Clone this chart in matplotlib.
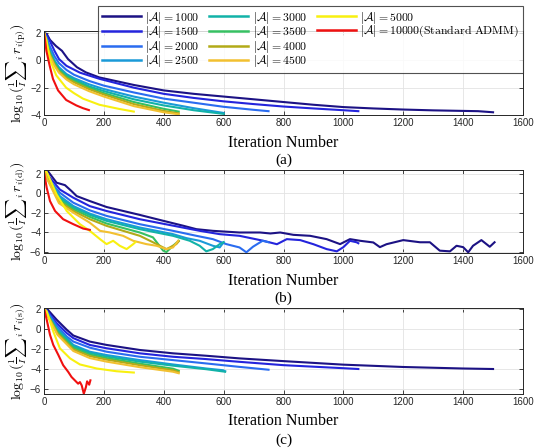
import matplotlib
matplotlib.use("Agg")
import matplotlib.pyplot as plt
from matplotlib.lines import Line2D

plt.rcParams['mathtext.fontset'] = 'cm'
plt.rcParams['font.family'] = ['Liberation Sans', 'DejaVu Sans']

sizes = [1000, 1500, 2000, 2500, 3000, 3500, 4000, 4500, 5000, 10000]
colors = ['#1c1284', '#2424dc', '#2a6cf0', '#1a9ad8', '#12b2a8', '#36c062',
          '#b2aa18', '#f2c030', '#f8f010', '#f01010']
labels = [r'$|\mathcal{A}| = %d$' % s for s in sizes[:-1]] + \
         [r'$|\mathcal{A}| = 10000(\mathrm{Standard\ ADMM})$']

# ---------------- panel (a): primal residual ----------------
it_a = [
    [0, 10, 20, 40, 60, 80, 110, 140, 185, 300, 400, 500, 600, 700, 800, 900, 1000, 1100, 1200, 1300, 1400, 1450, 1500],
    [0, 10, 20, 35, 50, 75, 120, 185, 300, 400, 500, 600, 700, 800, 900, 1000, 1050],
    [0, 10, 20, 35, 50, 75, 100, 150, 200, 300, 400, 500, 600, 700, 750],
    [0, 10, 20, 35, 50, 75, 100, 150, 200, 300, 400, 500, 600],
    [0, 10, 20, 35, 50, 75, 100, 150, 200, 300, 400, 500, 600],
    [0, 10, 20, 35, 50, 75, 100, 150, 200, 300, 400, 450],
    [0, 10, 20, 35, 50, 75, 100, 150, 200, 300, 400, 450],
    [0, 10, 20, 35, 50, 75, 100, 150, 200, 300, 400, 450],
    [0, 8, 19, 41, 74, 100, 130, 185, 250, 300],
    [0, 8, 19, 30, 47, 74, 108, 130, 150],
]
res_a = [
    [2.05, 1.9, 1.5, 1.05, 0.7, 0.1, -0.5, -0.88, -1.25, -1.8, -2.2, -2.45, -2.65, -2.85, -3.05, -3.25, -3.42, -3.52, -3.6, -3.66, -3.7, -3.72, -3.8],
    [2.05, 1.8, 1.4, 0.7, 0.1, -0.4, -0.9, -1.35, -2.0, -2.45, -2.75, -3.0, -3.2, -3.38, -3.52, -3.65, -3.72],
    [2.05, 1.6, 1.0, 0.3, -0.2, -0.7, -1.05, -1.5, -1.85, -2.35, -2.8, -3.1, -3.4, -3.62, -3.72],
    [2.05, 1.4, 0.7, 0.0, -0.5, -1.0, -1.3, -1.75, -2.1, -2.65, -3.1, -3.5, -3.85],
    [2.05, 1.3, 0.6, -0.1, -0.6, -1.1, -1.4, -1.9, -2.25, -2.85, -3.3, -3.65, -3.92],
    [2.05, 1.2, 0.5, -0.2, -0.7, -1.2, -1.5, -2.0, -2.4, -3.05, -3.55, -3.75],
    [2.05, 1.1, 0.4, -0.3, -0.8, -1.3, -1.6, -2.1, -2.5, -3.2, -3.7, -3.88],
    [2.05, 1.0, 0.3, -0.4, -0.9, -1.4, -1.75, -2.25, -2.65, -3.35, -3.8, -3.95],
    [2.05, 1.5, 0.1, -1.1, -2.0, -2.4, -2.8, -3.25, -3.55, -3.75],
    [2.05, 0.7, -0.4, -1.36, -2.2, -2.9, -3.3, -3.5, -3.64],
]

# ---------------- panel (b): dual residual ----------------
it_b = [
    [0, 10, 42, 70, 92, 109, 153, 209, 320, 398, 464, 509, 564, 653, 722, 756, 789, 833, 889, 944, 989, 1022, 1056, 1100, 1122, 1144, 1200, 1256, 1289, 1322, 1356, 1378, 1400, 1417, 1433, 1461, 1489, 1505],
    [0, 20, 53, 98, 153, 209, 320, 431, 520, 587, 653, 733, 778, 811, 856, 900, 944, 978, 1000, 1022, 1044, 1050],
    [0, 20, 53, 98, 153, 209, 320, 431, 509, 564, 609, 653, 676, 698, 730, 750],
    [0, 10, 53, 98, 153, 209, 320, 431, 476, 520, 564, 587, 600],
    [0, 10, 50, 98, 153, 209, 320, 431, 487, 520, 542, 564, 587, 600],
    [0, 10, 50, 98, 153, 209, 320, 364, 398, 409, 431, 450],
    [0, 10, 50, 98, 153, 209, 320, 364, 409, 442, 450],
    [0, 10, 50, 98, 153, 187, 220, 264, 298, 342, 376, 409, 431, 448],
    [0, 9, 42, 76, 120, 153, 187, 209, 231, 253, 276, 298, 305],
    [0, 9, 20, 37, 64, 98, 131, 153],
]
res_b = [
    [2.45, 2.4, 1.1, 0.85, 0.24, -0.27, -0.78, -1.39, -2.2, -2.8, -3.3, -3.66, -3.83, -4.0, -4.0, -4.1, -4.0, -4.24, -4.34, -4.68, -5.19, -4.68, -4.85, -5.02, -5.5, -5.2, -4.78, -5.0, -5.0, -5.86, -5.93, -5.36, -5.5, -6.03, -5.36, -4.78, -5.46, -5.0],
    [2.45, 1.6, 0.4, -0.44, -1.3, -1.8, -2.64, -3.3, -3.83, -4.17, -4.34, -4.85, -5.2, -4.68, -4.78, -5.2, -5.7, -5.93, -5.5, -4.85, -5.0, -5.1],
    [2.45, 1.25, 0.07, -0.95, -1.73, -2.3, -3.15, -3.83, -4.34, -4.68, -5.19, -5.53, -6.03, -5.46, -4.85, -5.0],
    [2.45, 1.9, -0.27, -1.29, -2.07, -2.64, -3.49, -4.17, -4.58, -4.85, -5.36, -5.53, -5.0],
    [2.45, 1.8, -0.4, -1.46, -2.2, -2.81, -3.66, -4.34, -4.85, -5.36, -5.93, -5.7, -5.19, -5.0],
    [2.45, 1.7, -0.6, -1.63, -2.4, -3.08, -4.0, -4.5, -5.86, -6.0, -5.36, -4.85],
    [2.45, 1.6, -0.8, -1.8, -2.64, -3.32, -4.34, -5.0, -5.7, -5.19, -4.9],
    [2.45, 1.5, -1.0, -1.97, -3.0, -3.83, -4.0, -4.34, -4.85, -5.19, -5.36, -5.7, -5.53, -4.85],
    [2.4, 2.2, -0.1, -1.8, -3.15, -3.83, -4.68, -5.19, -4.85, -5.36, -5.7, -5.19, -5.0],
    [2.2, 0.58, -0.78, -1.8, -2.64, -3.15, -3.6, -3.73],
]

# ---------------- panel (c): third residual ----------------
it_c = [
    [0, 9, 42, 76, 98, 153, 209, 320, 431, 542, 653, 800, 1000, 1200, 1400, 1500],
    [0, 10, 42, 76, 98, 153, 209, 320, 431, 542, 653, 800, 1000, 1050],
    [0, 10, 42, 76, 98, 153, 209, 320, 431, 542, 653, 750],
    [0, 10, 42, 98, 153, 209, 320, 431, 542, 598, 605],
    [0, 10, 42, 98, 153, 209, 320, 431, 542, 605],
    [0, 10, 45, 98, 153, 209, 320, 431, 450],
    [0, 10, 45, 98, 153, 209, 320, 431, 450],
    [0, 10, 45, 98, 153, 209, 320, 431, 450],
    [0, 9, 31, 53, 87, 120, 176, 242, 300],
    [0, 9, 20, 31, 48, 64, 81, 92, 103, 114, 120, 126, 133, 140, 144, 151, 155],
]
res_c = [
    [2.0, 2.0, 0.9, -0.1, -0.67, -1.27, -1.6, -2.1, -2.43, -2.67, -2.93, -3.2, -3.55, -3.78, -3.93, -3.98],
    [2.0, 1.8, 0.57, -0.43, -0.93, -1.6, -1.93, -2.43, -2.77, -3.0, -3.27, -3.6, -3.9, -3.98],
    [2.0, 1.7, 0.33, -0.77, -1.27, -1.87, -2.27, -2.77, -3.1, -3.43, -3.77, -4.05],
    [2.0, 1.6, 0.07, -1.6, -2.27, -2.6, -3.1, -3.53, -3.93, -4.1, -4.2],
    [2.0, 1.55, -0.05, -1.75, -2.4, -2.75, -3.25, -3.65, -4.0, -4.25],
    [2.0, 1.5, -0.3, -1.9, -2.55, -2.9, -3.45, -3.95, -4.15],
    [2.0, 1.45, -0.45, -2.05, -2.7, -3.05, -3.6, -4.1, -4.3],
    [2.0, 1.4, -0.6, -2.2, -2.9, -3.25, -3.8, -4.25, -4.4],
    [2.0, 1.73, -0.27, -1.93, -2.93, -3.53, -3.93, -4.2, -4.33],
    [2.0, 0.9, -0.6, -1.6, -2.6, -3.6, -4.27, -4.77, -5.1, -5.43, -5.27, -5.6, -6.43, -5.77, -5.2, -5.53, -5.1],
]

ylabels = [r'$\log_{10}(\frac{1}{I}{\sum}_i\, r_{i(\mathrm{p})})$',
           r'$\log_{10}(\frac{1}{I}{\sum}_i\, r_{i(\mathrm{d})})$',
           r'$\log_{10}(\frac{1}{I}{\sum}_i\, r_{i(\mathrm{s})})$']
panel_tags = ['(a)', '(b)', '(c)']
ylims = [(-4, 2.15), (-6.1, 2.4), (-6.45, 2.05)]
yticks = [[-4, -2, 0, 2], [-6, -4, -2, 0, 2], [-6, -4, -2, 0, 2]]
xticks = list(range(0, 1601, 200))

W, H = 550, 448
fig = plt.figure(figsize=(W / 100, H / 100), dpi=100)

# pixel boxes (left, top, right, bottom)
boxes = [(44, 31, 523, 115), (44, 170, 523, 253), (44, 308, 523, 394)]
xlab_y = [143, 281, 421]
tag_y = [160, 298, 440]

datasets = [(it_a, res_a), (it_b, res_b), (it_c, res_c)]
axes = []
for k in range(3):
    l, t, r, b = boxes[k]
    ax = fig.add_axes([l / W, 1 - b / H, (r - l) / W, (b - t) / H])
    its, res = datasets[k]
    for i in range(len(sizes)):
        ax.plot(its[i], res[i], color=colors[i], lw=1.5, label=labels[i],
                solid_joinstyle='round')
    ax.set_xlim(0, 1600)
    ax.set_ylim(*ylims[k])
    ax.set_xticks(xticks)
    ax.set_yticks(yticks[k])
    ax.grid(True, color='#e3e3e3', lw=0.6)
    ax.set_axisbelow(True)
    ax.tick_params(direction='in', top=True, right=True, length=3, width=0.6,
                   labelsize=7, colors='#262626', pad=2)
    for s in ax.spines.values():
        s.set_color('#262626')
        s.set_linewidth(0.7)
    ax.set_ylabel(ylabels[k], fontsize=10, labelpad=1)
    fig.text(((l + r) / 2) / W, 1 - xlab_y[k] / H, 'Iteration Number',
             family='Liberation Serif', fontsize=11.5, ha='center', va='center')
    fig.text(((l + r) / 2) / W, 1 - tag_y[k] / H, panel_tags[k],
             family='Liberation Serif', fontsize=11, ha='center', va='center')
    axes.append(ax)

h, lab = axes[0].get_legend_handles_labels()
blank = Line2D([], [], linestyle='none')
h = h + [blank, blank]
lab = lab + ['', '']
leg = fig.legend(h, lab, loc='upper right', bbox_to_anchor=(523 / W, 1 - 6 / H),
                 ncol=3, fontsize=8.5, frameon=True, fancybox=False,
                 edgecolor='#262626', handlelength=3.3, handletextpad=0.4,
                 columnspacing=0.8, labelspacing=-0.12, borderpad=0.3,
                 borderaxespad=0)
leg.get_frame().set_linewidth(0.8)
leg.set_zorder(10)
for ln in leg.get_lines():
    ln.set_linewidth(1.8)

fig.savefig('out.png', dpi=100)
